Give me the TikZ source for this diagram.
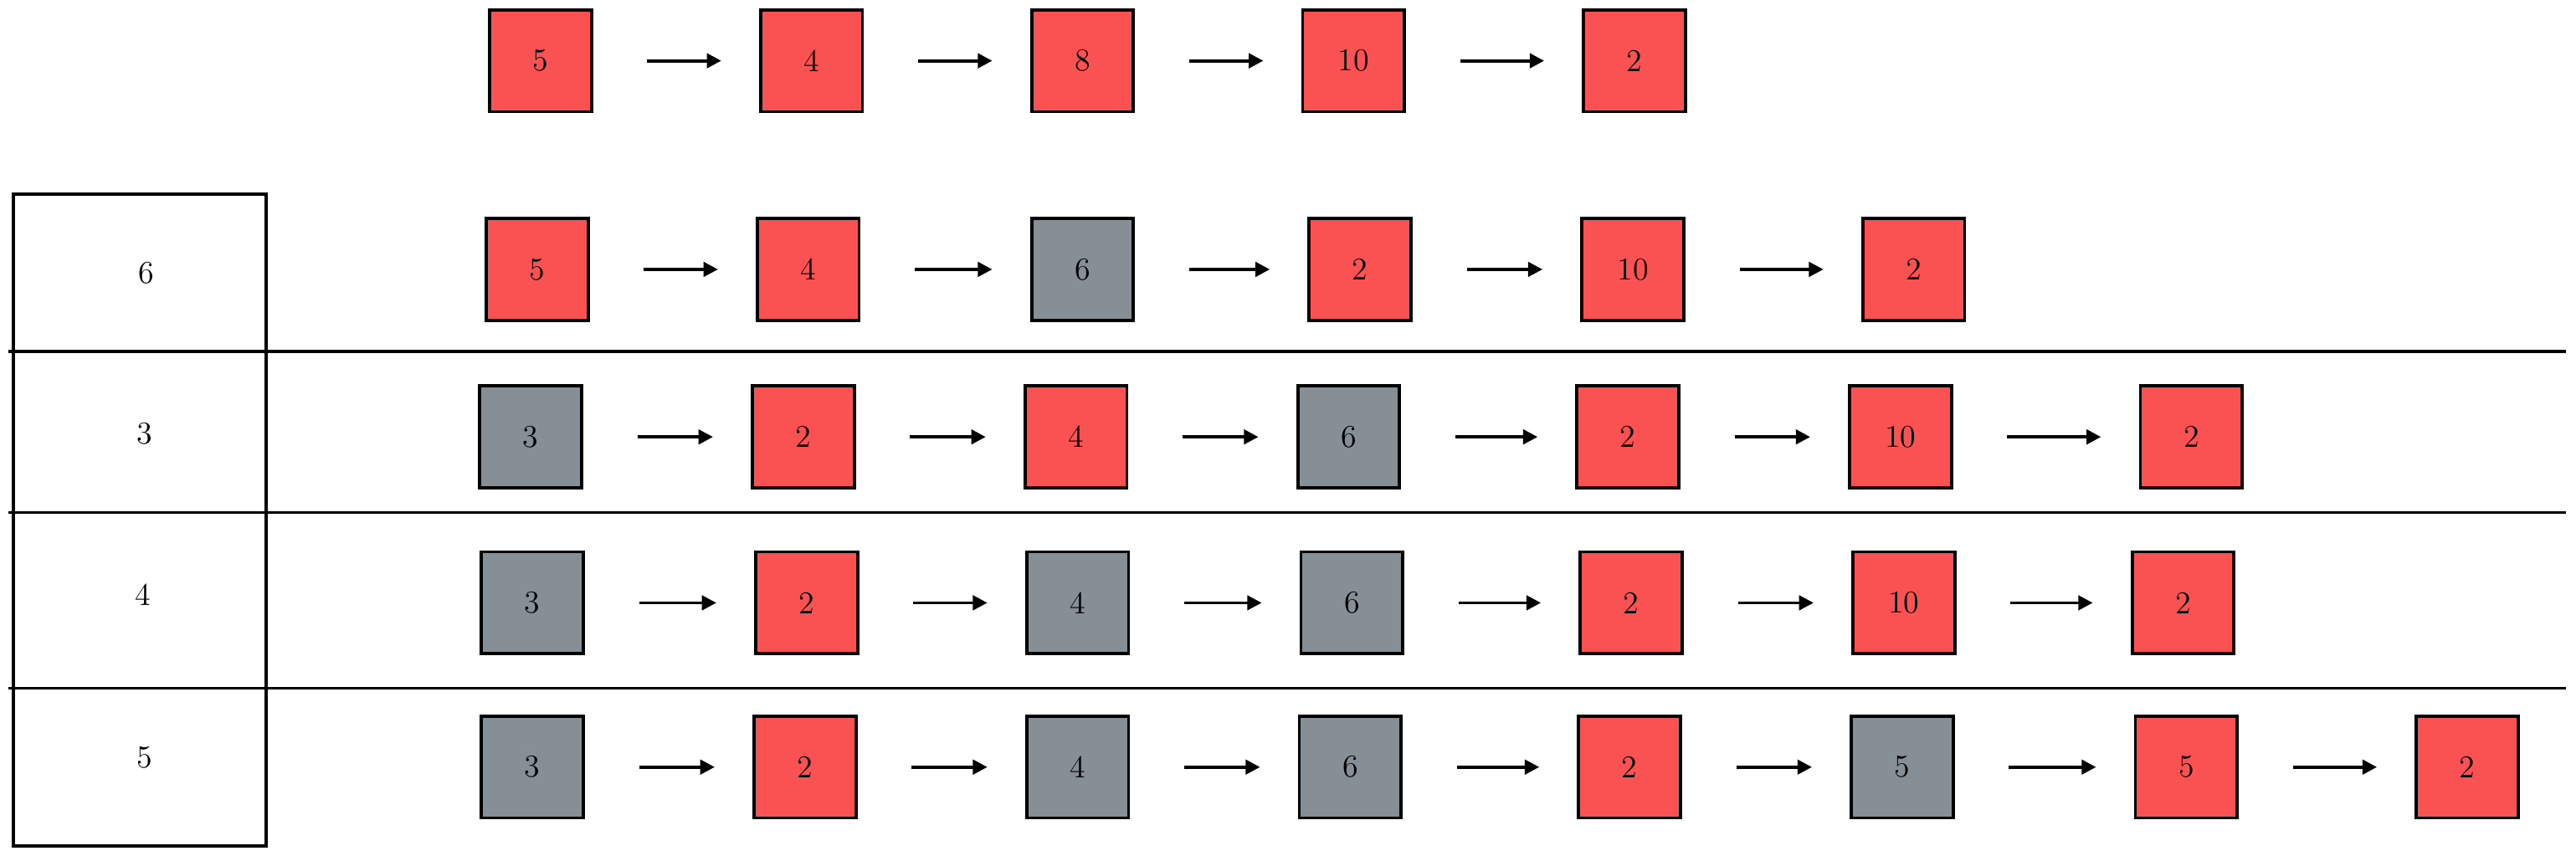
\documentclass[tikz,border=0pt]{standalone}
\usetikzlibrary{positioning,arrows.meta}
\definecolor{boxred}{HTML}{FA5252}
\definecolor{boxgray}{HTML}{868E96}
\tikzset{red node/.style={rectangle,draw,fill=boxred,line width=1.1pt,minimum size=1.24cm,inner sep=0pt,font=\fontsize{11}{13}\selectfont},
gray node/.style={red node,fill=boxgray},
link/.style={-{Triangle[length=5pt,width=5pt]},line width=1.1pt,shorten <=0.66cm,shorten >=0.46cm} }

\begin{document}
\begin{tikzpicture}[x=0.02cm,y=-0.02cm]
\useasboundingbox (0,0) rectangle (1568,521);
\begin{scope}[on grid]

  % top row
  \node[red node] (t1) at (329,37) {5};
  \node[red node] (t2) [right=3.3cm of t1] {4};
  \node[red node] (t3) [right=3.3cm of t2] {8};
  \node[red node] (t4) [right=3.3cm of t3] {10};
  \node[red node] (t5) [right=3.42cm of t4] {2};

  % row 6
  \node[red node] (a1) at (327,164) {5};
  \node[red node] (a2) [right=3.3cm of a1] {4};
  \node[gray node] (a3) [right=3.34cm of a2] {6};
  \node[red node] (a4) [right=3.38cm of a3] {2};
  \node[red node] (a5) [right=3.32cm of a4] {10};
  \node[red node] (a6) [right=3.42cm of a5] {2};

  % row 3
  \node[gray node] (b1) at (323,266) {3};
  \node[red node] (b2) [right=3.32cm of b1] {2};
  \node[red node] (b3) [right=3.32cm of b2] {4};
  \node[gray node] (b4) [right=3.32cm of b3] {6};
  \node[red node] (b5) [right=3.4cm of b4] {2};
  \node[red node] (b6) [right=3.32cm of b5] {10};
  \node[red node] (b7) [right=3.54cm of b6] {2};

  % row 4
  \node[gray node] (c1) at (324,367) {3};
  \node[red node] (c2) [right=3.34cm of c1] {2};
  \node[gray node] (c3) [right=3.3cm of c2] {4};
  \node[gray node] (c4) [right=3.34cm of c3] {6};
  \node[red node] (c5) [right=3.4cm of c4] {2};
  \node[red node] (c6) [right=3.32cm of c5] {10};
  \node[red node] (c7) [right=3.4cm of c6] {2};

  % row 5
  \node[gray node] (d1) at (324,467) {3};
  \node[red node] (d2) [right=3.32cm of d1] {2};
  \node[gray node] (d3) [right=3.32cm of d2] {4};
  \node[gray node] (d4) [right=3.32cm of d3] {6};
  \node[red node] (d5) [right=3.4cm of d4] {2};
  \node[gray node] (d6) [right=3.32cm of d5] {5};
  \node[red node] (d7) [right=3.46cm of d6] {5};
  \node[red node] (d8) [right=3.42cm of d7] {2};

    \path
    (t1) edge [link] (t2)
    (t2) edge [link] (t3)
    (t3) edge [link] (t4)
    (t4) edge [link] (t5)

    (a1) edge [link] (a2)
    (a2) edge [link] (a3)
    (a3) edge [link] (a4)
    (a4) edge [link] (a5)
    (a5) edge [link] (a6)

    (b1) edge [link] (b2)
    (b2) edge [link] (b3)
    (b3) edge [link] (b4)
    (b4) edge [link] (b5)
    (b5) edge [link] (b6)
    (b6) edge [link] (b7)

    (c1) edge [link] (c2)
    (c2) edge [link] (c3)
    (c3) edge [link] (c4)
    (c4) edge [link] (c5)
    (c5) edge [link] (c6)
    (c6) edge [link] (c7)

    (d1) edge [link] (d2)
    (d2) edge [link] (d3)
    (d3) edge [link] (d4)
    (d4) edge [link] (d5)
    (d5) edge [link] (d6)
    (d6) edge [link] (d7)
    (d7) edge [link] (d8)
    ;
    \end{scope}

  % table on the left
  \draw[line width=1.1pt] (8,515) -- (8,118) -- (162,118) -- (162,515) -- cycle;
  \draw[line width=1.1pt] (5,214) -- (1562,214)
    (5,312) -- (1562,312)
    (5,419) -- (1562,419);

  \node[font=\fontsize{11}{13}\selectfont] (k6) at (89,166) {6};
  \node[font=\fontsize{11}{13}\selectfont] (k3) at (88,264) {3};
  \node[font=\fontsize{11}{13}\selectfont] (k4) at (87,362) {4};
  \node[font=\fontsize{11}{13}\selectfont] (k5) at (88,461) {5};
\end{tikzpicture}
\end{document}
